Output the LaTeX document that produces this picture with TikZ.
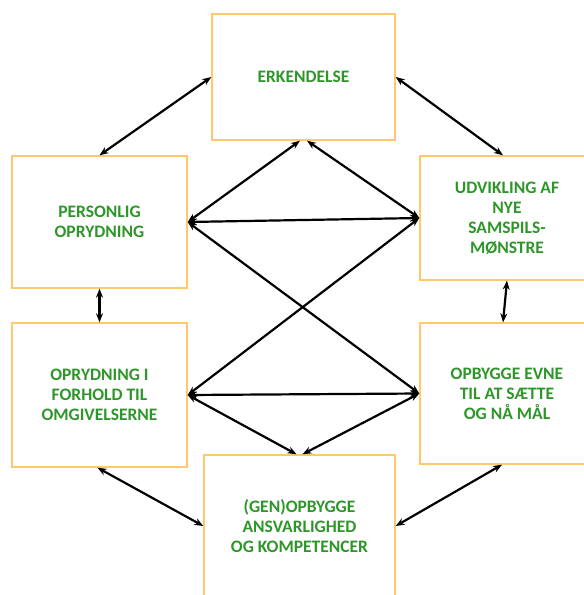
\documentclass[tikz,border=0pt]{standalone}
\usepackage{fontspec}
\setmainfont{Carlito}
\usetikzlibrary{positioning, arrows, arrows.meta}
\definecolor{boxline}{RGB}{255,200,110}
\definecolor{boxtext}{RGB}{45,150,40}

\begin{document}
\begin{tikzpicture}[x=1pt, y=-1pt, >={Stealth[length=9pt,width=7pt]}, line width=2.2pt,
	stage/.style={rectangle, draw=boxline, line width=1.4pt, text=boxtext, align=center, inner sep=0pt,
		font=\fontsize{17.5}{20}\selectfont\bfseries}]
			\useasboundingbox (0,0) rectangle (584,595);
			% Nodes
			\node (Erkendelse) [stage, minimum width=183pt, minimum height=126pt] at (303.5,77) {ERKENDELSE};
			\node (Personlig) [stage, minimum width=175pt, minimum height=132pt] at (99.5,222) {PERSONLIG\\OPRYDNING};
			\node (Oprydning) [stage, minimum width=175pt, minimum height=144pt] at (99.5,395) {OPRYDNING I\\FORHOLD TIL\\OMGIVELSERNE};
			\node (Udvikling) [stage, minimum width=174pt, minimum height=124pt] at (507,218) {UDVIKLING AF\\NYE\\SAMSPILS-\\MØNSTRE};
			\node (Opbygge) [stage, minimum width=174pt, minimum height=141pt] at (507,393.5) {OPBYGGE EVNE\\TIL AT SÆTTE\\OG NÅ MÅL};
			\node (Ansvar) [stage, minimum width=191pt, minimum height=142pt] at (299.5,526) {(GEN)OPBYGGE\\ANSVARLIGHED\\OG KOMPETENCER};
		
			% Arrows round the ring
			\draw[<->] (Erkendelse.west) -- (Personlig.north);
			\draw[<->] (Erkendelse.east) -- ([xshift=-4pt]Udvikling.north);
			\draw[<->] (Personlig.south) -- (Oprydning.north);
			\draw[<->] (Udvikling.south) -- ([xshift=-4pt]Opbygge.north);
			\draw[<->] ([xshift=-2pt]Oprydning.south) -- (Ansvar.west);
			\draw[<->] ([xshift=-5pt]Opbygge.south) -- (Ansvar.east);
		
			% Arrows across the middle
			\draw[<->] (Personlig.east) -- ([xshift=-3.5pt]Erkendelse.south);
			\draw[<->] (Udvikling.west) -- ([xshift=3.5pt]Erkendelse.south);
			\draw[<->] (Personlig.east) -- (Udvikling.west);
			\draw[<->] (Personlig.east) -- (Opbygge.west);
			\draw[<->] (Udvikling.west) -- (Oprydning.east);
			\draw[<->] (Oprydning.east) -- (Opbygge.west);
			\draw[<->] (Oprydning.east) -- ([xshift=-3pt]Ansvar.north);
			\draw[<->] (Opbygge.west) -- ([xshift=3pt]Ansvar.north);
		\end{tikzpicture}
\end{document}
